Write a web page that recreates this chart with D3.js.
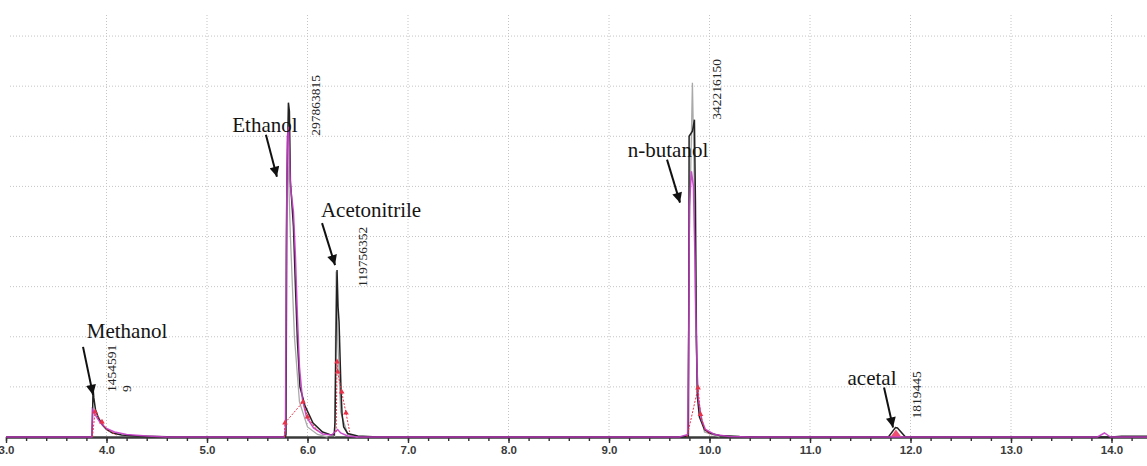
<!DOCTYPE html>
<html>
<head>
<meta charset="utf-8">
<script src="https://cdn.jsdelivr.net/npm/d3@7"></script>
<style>
body { margin: 0; background: #fff; }
.grid line { stroke: #c4c4c4; stroke-width: 1; stroke-dasharray: 1,2; }
.x.axis path { stroke: #3a3a3a; stroke-width: 2; }
.x.axis line { stroke: #333; stroke-width: 1.4; }
.x.axis text { font-family: "Liberation Sans", sans-serif; font-size: 11.5px; font-weight: bold; fill: #3a3a3a; }
.peak-name { font-family: "Liberation Serif", serif; font-size: 21px; fill: #151515; }
.peak-area { font-family: "Liberation Serif", serif; font-size: 13.5px; fill: #262626; }
</style>
</head>
<body>
<div id="svgDiv"></div>
<script>
var width = 1147, height = 466;

// axis ticks (retention time, min)
var tickTimes = [3, 4, 5, 6, 7, 8, 9, 10, 11, 12, 13, 14];
var tickLabels = ["3.0", "4.0", "5.0", "6.0", "7.0", "8.0", "9.0", "10.0", "11.0", "12.0", "13.0", "14.0"];
var gridLevels = [1, 2, 3, 4, 5, 6, 7, 8];

// peaks
var peakNames = ["Methanol", "Ethanol", "Acetonitrile", "n-butanol", "acetal"];
var peakTimes = [3.866, 5.815, 6.294, 9.836, 11.856];
var peakHeights = [0.98, 6.67, 3.33, 7.07, 0.19];
var peakAreas = ["14545919", "297863815", "119756352", "342216150", "1819445"];

// traces: [time, signal], null = gap
var blackTrace = [[3.0,0],[3.855,0],[3.862,0.5],[3.866,0.98],[3.874,0.78],[3.89,0.55],[3.92,0.38],[3.96,0.24],[4.0,0.15],[4.06,0.08],[4.15,0.04],[4.3,0.02],[4.5,0.01],[4.7,0],
  [5.78,0],[5.786,0.05],[5.795,5.0],[5.81,6.67],[5.82,6.5],[5.83,5.1],[5.86,4.2],[5.88,3.0],[5.90,1.9],[5.925,1.0],[5.975,0.62],[6.055,0.28],[6.15,0.1],[6.22,0.05],
  [6.265,0.04],[6.274,0.3],[6.284,2.0],[6.294,3.33],[6.304,2.6],[6.314,2.3],[6.324,1.6],[6.334,0.9],[6.344,0.45],[6.36,0.2],[6.40,0.07],[6.5,0.02],[6.7,0],
  [9.7,0],[9.79,0.02],[9.795,3.0],[9.797,6.0],[9.83,6.1],[9.85,6.33],[9.86,4.7],[9.87,2.0],[9.88,0.8],[9.90,0.4],[9.95,0.15],[10.0,0.08],[10.1,0.03],[10.3,0.01],[10.5,0],
  [11.78,0],[11.85,0.19],[11.87,0.18],[11.95,0],[14.0,0],[14.1,0.015],[14.4,0.015]];

var magentaTrace = [[3.0,0],[3.855,0],[3.86,0.55],[3.875,0.5],[3.9,0.4],[3.94,0.28],[4.0,0.17],[4.08,0.1],[4.2,0.05],[4.4,0.02],[4.6,0],
  [5.77,0],[5.782,0.2],[5.79,4.0],[5.80,6.0],[5.812,6.19],[5.83,5.0],[5.86,4.5],[5.88,3.6],[5.90,2.4],[5.92,1.4],[5.95,0.75],[5.99,0.4],[6.06,0.18],[6.15,0.06],[6.24,0.04],[6.30,0.15],[6.33,0.08],[6.4,0.02],[6.5,0],
  [9.7,0],[9.785,0.05],[9.795,2.5],[9.80,4.6],[9.82,5.3],[9.84,5.0],[9.855,3.6],[9.865,2.4],[9.875,1.4],[9.89,0.75],[9.92,0.35],[9.96,0.15],[10.05,0.05],[10.2,0.01],[10.4,0],
  [13.86,0],[13.93,0.08],[13.99,0],[14.4,0]];

var grayTrace = [[5.78,0],[5.785,3.5],[5.80,6.0],[5.83,4.0],[5.87,2.0],[5.92,0.7],[6.0,0.2],[6.1,0.05],[6.2,0], null,
  [6.27,0],[6.285,3.3],[6.30,2.0],[6.33,0.5],[6.4,0.05],[6.5,0], null,
  [9.78,0],[9.80,4.0],[9.83,7.07],[9.845,5.5],[9.86,2.5],[9.88,0.8],[9.95,0.1],[10.1,0]];

var redTrace = [[3.86,0],[3.886,0.5],[3.955,0.3],[4.0,0.15],[4.1,0.04], null,
  [5.77,0],[5.776,0.28],[5.955,0.7],[6.0,0.4],[6.1,0.12], null,
  [6.285,0.1],[6.294,1.5],[6.30,1.3],[6.34,0.9],[6.383,0.48],[6.42,0.1], null,
  [9.776,0],[9.886,0.98],[9.91,0.45],[9.95,0.15],[10.02,0.03]];

var acetalFill = [[11.80,0],[11.855,0.15],[11.91,0]];

// annotation placement, pixels relative to each peak apex
var layout = {
  "Methanol":     {tip: [0, 7],     start: [-10, -41], label: [34, -50], area: [23, 4]},
  "Ethanol":      {tip: [-12, 74],  start: [-23, 32],  label: [-24, 29], area: [31, 33]},
  "Acetonitrile": {tip: [-2, -5],   start: [-15, -47], label: [34, -53], area: [30, 17]},
  "n-butanol":    {tip: [-13, 120], start: [-26, 77],  label: [-25, 74], area: [28, 37]},
  "acetal":       {tip: [-3, 0],    start: [-12, -40], label: [-24, -42], area: [25, -9]}
};

var xScale = d3.scaleLinear().domain([3, 14.4]).range([6, 1151.7]);
var yScale = d3.scaleLinear().domain([0, 8.42]).range([437, 15]);

var svg = d3.select("#svgDiv").append("svg")
  .attr("width", width)
  .attr("height", height)
  .style("background", "#fff");

svg.append("defs").append("marker")
  .attr("id", "arrowhead")
  .attr("markerUnits", "userSpaceOnUse")
  .attr("viewBox", "0 0 10 10")
  .attr("refX", 10).attr("refY", 5)
  .attr("markerWidth", 11).attr("markerHeight", 10)
  .attr("orient", "auto")
  .append("path")
  .attr("d", "M0,0 L10,5 L0,10 Z")
  .attr("fill", "#111");

// grid
var grid = svg.append("g").attr("class", "grid");
grid.selectAll("line.h")
  .data(gridLevels)
  .enter().append("line")
  .attr("class", "h")
  .attr("x1", 10).attr("x2", width)
  .attr("y1", function(d) { return yScale(d); })
  .attr("y2", function(d) { return yScale(d); });
grid.selectAll("line.v")
  .data(tickTimes.slice(1))
  .enter().append("line")
  .attr("class", "v")
  .attr("x1", function(d) { return xScale(d); })
  .attr("x2", function(d) { return xScale(d); })
  .attr("y1", yScale(8.42)).attr("y2", yScale(0));

// x axis: minor then major ticks
svg.append("g")
  .attr("class", "x axis minor")
  .attr("transform", "translate(0," + yScale(0) + ")")
  .call(d3.axisBottom(xScale).ticks(60).tickSizeInner(4).tickSizeOuter(0).tickFormat(""));

svg.append("g")
  .attr("class", "x axis")
  .attr("transform", "translate(0," + yScale(0) + ")")
  .call(d3.axisBottom(xScale)
    .tickValues(tickTimes)
    .tickSizeInner(6).tickSizeOuter(0)
    .tickPadding(3)
    .tickFormat(function(d, i) { return tickLabels[i]; }));

var line = d3.line()
  .defined(function(d) { return d != null; })
  .x(function(d) { return xScale(d[0]); })
  .y(function(d) { return yScale(d[1]); });

svg.append("path")
  .datum(acetalFill)
  .attr("d", d3.area()
    .x(function(d) { return xScale(d[0]); })
    .y0(yScale(0))
    .y1(function(d) { return yScale(d[1]); }))
  .attr("fill", "#ee4f72");

svg.append("path").datum(grayTrace).attr("d", line)
  .attr("fill", "none").attr("stroke", "#a9a9a9").attr("stroke-width", 1.3);
svg.append("path").datum(blackTrace).attr("d", line)
  .attr("fill", "none").attr("stroke", "#222").attr("stroke-width", 1.5);
svg.append("path").datum(magentaTrace).attr("d", line)
  .attr("fill", "none").attr("stroke", "#c43cc4").attr("stroke-width", 1.5).attr("stroke-opacity", 0.9);
svg.append("path").datum(redTrace).attr("d", line)
  .attr("fill", "none").attr("stroke", "#e8324a").attr("stroke-width", 1).attr("stroke-dasharray", "2,1.5");

svg.selectAll("path.redmark")
  .data(redTrace.filter(function(d) { return d != null && d[1] > 0.2; }))
  .enter().append("path")
  .attr("class", "redmark")
  .attr("d", d3.symbol(d3.symbolTriangle, 14))
  .attr("transform", function(d) { return "translate(" + xScale(d[0]) + "," + yScale(d[1]) + ")"; })
  .attr("fill", "#e8324a");

// annotations
var ann = svg.selectAll("g.ann")
  .data(peakNames)
  .enter().append("g")
  .attr("class", "ann");

function apex(i) { return [xScale(peakTimes[i]), yScale(peakHeights[i])]; }

ann.append("line")
  .attr("x1", function(d, i) { return apex(i)[0] + layout[d].start[0]; })
  .attr("y1", function(d, i) { return apex(i)[1] + layout[d].start[1]; })
  .attr("x2", function(d, i) { return apex(i)[0] + layout[d].tip[0]; })
  .attr("y2", function(d, i) { return apex(i)[1] + layout[d].tip[1]; })
  .attr("stroke", "#111").attr("stroke-width", 2)
  .attr("marker-end", "url(#arrowhead)");

ann.append("text")
  .attr("class", "peak-name")
  .attr("text-anchor", "middle")
  .attr("x", function(d, i) { return apex(i)[0] + layout[d].label[0]; })
  .attr("y", function(d, i) { return apex(i)[1] + layout[d].label[1]; })
  .text(function(d) { return d; });

var areaText = ann.append("text")
  .attr("class", "peak-area")
  .attr("transform", function(d, i) {
    return "translate(" + (apex(i)[0] + layout[d].area[0]) + "," + (apex(i)[1] + layout[d].area[1]) + ") rotate(-90)";
  });

// Methanol's 8-digit area wraps after 7 digits in the original
areaText.each(function(d, i) {
  var s = peakAreas[i];
  var cut = s.length > 7 && s.length < 9 ? 7 : s.length;
  var t = d3.select(this);
  t.append("tspan").attr("x", 0).attr("dy", 0).text(s.slice(0, cut));
  if (cut < s.length) {
    t.append("tspan").attr("x", 0).attr("dy", 15).text(s.slice(cut));
  }
});
</script>
</body>
</html>
